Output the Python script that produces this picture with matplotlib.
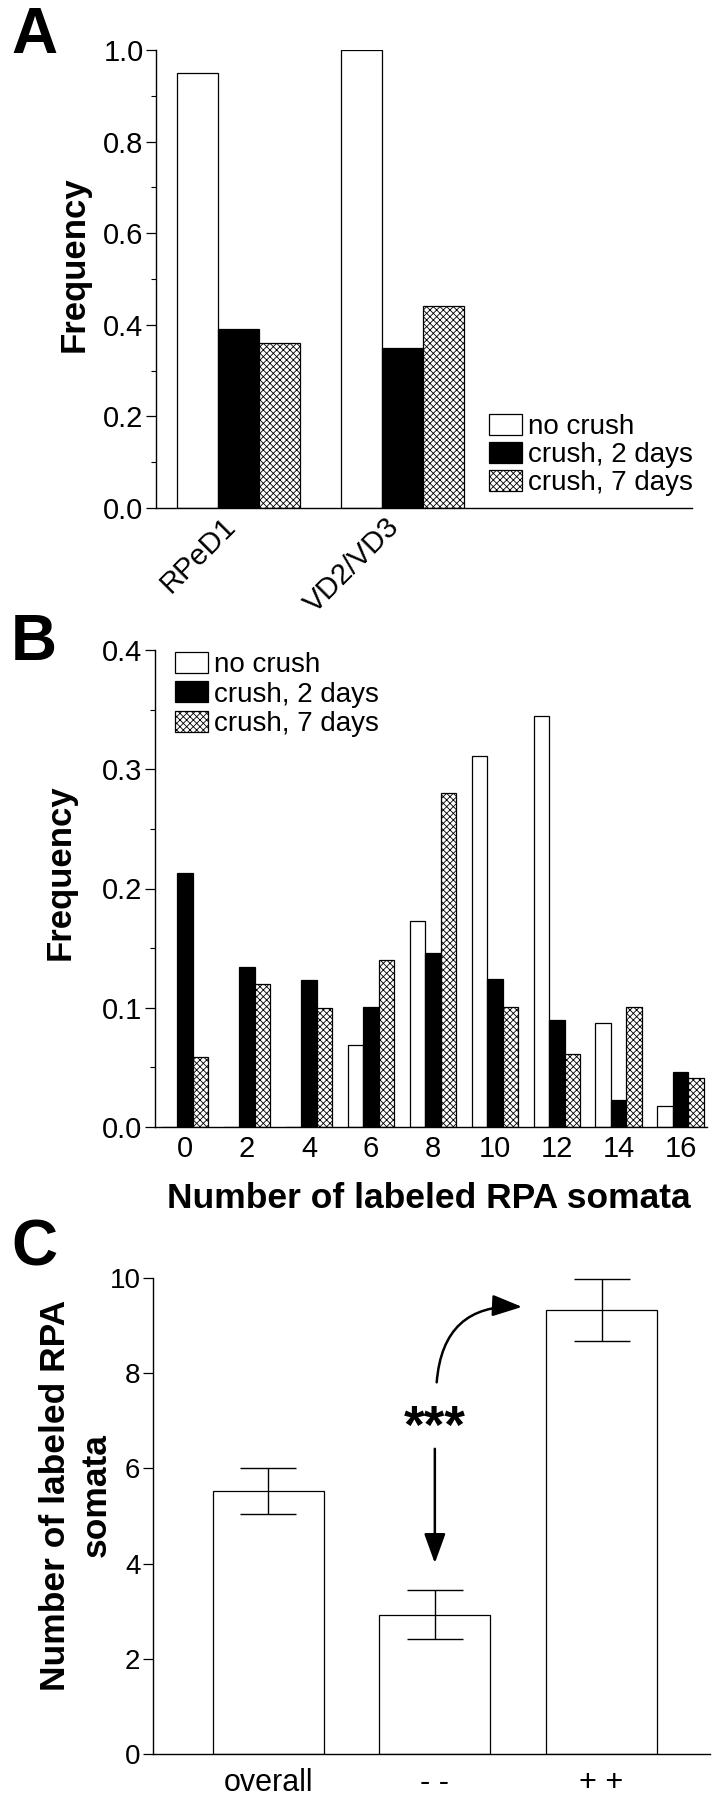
import matplotlib
matplotlib.use('Agg')
import matplotlib.pyplot as plt
import matplotlib.transforms as mtransforms
import numpy as np
from matplotlib.ticker import MultipleLocator, FormatStrFormatter
from matplotlib.patches import FancyArrowPatch

plt.rcParams['font.family'] = ['Liberation Sans', 'DejaVu Sans']
plt.rcParams['hatch.linewidth'] = 0.6

W, H = 725, 1800

series = ['no crush', 'crush, 2 days', 'crush, 7 days']

# panel A
cells = ['RPeD1', 'VD2/VD3']
a_none = [0.95, 1.0]
a_2d = [0.39, 0.35]
a_7d = [0.36, 0.44]

# panel B
somata = [0, 2, 4, 6, 8, 10, 12, 14, 16]
b_none = [0, 0, 0, 0.069, 0.173, 0.311, 0.345, 0.087, 0.018]
b_2d = [0.213, 0.134, 0.123, 0.101, 0.146, 0.124, 0.090, 0.023, 0.046]
b_7d = [0.059, 0.120, 0.100, 0.140, 0.280, 0.101, 0.061, 0.101, 0.041]

# panel C
groups = ['overall', '- -', '+ +']
c_mean = [5.52, 2.93, 9.33]
c_err = [0.48, 0.52, 0.65]

fig = plt.figure(figsize=(W / 100, H / 100), dpi=100)


def px_axes(l, t, r, b):
    return fig.add_axes([l / W, 1 - b / H, (r - l) / W, (b - t) / H])


def fx(px):
    return px / W


def fy(py):
    return 1 - py / H


def style(ax):
    ax.spines[['top', 'right']].set_visible(False)
    ax.spines[['left', 'bottom']].set_linewidth(1.0)
    ax.tick_params(axis='y', which='major', direction='out', length=7, width=0.9,
                   labelsize=21, pad=2)
    ax.tick_params(axis='y', which='minor', direction='out', length=3.5, width=0.8)
    ax.tick_params(axis='x', length=0, labelsize=21)


bar_kw = dict(edgecolor='black', linewidth=0.9)
styles = [dict(color='white'), dict(color='black'), dict(color='white', hatch='xxxxx')]
leg_kw = dict(frameon=False, fontsize=20, handleheight=0.78, handlelength=1.2,
              handletextpad=0.2, borderpad=0, borderaxespad=0)

# ---- A ----
axA = px_axes(156, 50, 692, 508)
xa = np.arange(len(cells))
w = 0.25
for k, vals in enumerate([a_none, a_2d, a_7d]):
    st = styles[k]
    axA.bar(xa + (k - 1) * w, vals, w, facecolor=st['color'], hatch=st.get('hatch'),
            label=series[k], **bar_kw)
axA.set_xlim(-0.503, 2.765)
axA.set_ylim(0, 1.0)
axA.yaxis.set_major_locator(MultipleLocator(0.2))
axA.yaxis.set_minor_locator(MultipleLocator(0.1))
axA.yaxis.set_major_formatter(FormatStrFormatter('%.1f'))
style(axA)
axA.set_xticks(xa)
axA.set_xticklabels(cells, rotation=45, ha='right', va='top', rotation_mode='anchor')
axA.tick_params(axis='x', pad=3)
shift = mtransforms.ScaledTranslation(-0.17, 0, fig.dpi_scale_trans)
for lbl in axA.get_xticklabels():
    lbl.set_transform(lbl.get_transform() + shift)
axA.legend(loc='lower left', bbox_to_anchor=(fx(489), fy(496)), bbox_transform=fig.transFigure,
           labelspacing=0.07, **leg_kw)

# ---- B ----
axB = px_axes(155, 650, 707, 1127)
xb = np.array(somata, dtype=float)
wb = 0.5
for k, vals in enumerate([b_none, b_2d, b_7d]):
    st = styles[k]
    axB.bar(xb + (k - 1) * wb, vals, wb, facecolor=st['color'], hatch=st.get('hatch'),
            label=series[k], **bar_kw)
axB.set_xlim(-0.97, 16.85)
axB.set_ylim(0, 0.4)
axB.yaxis.set_major_locator(MultipleLocator(0.1))
axB.yaxis.set_minor_locator(MultipleLocator(0.05))
axB.yaxis.set_major_formatter(FormatStrFormatter('%.1f'))
style(axB)
axB.set_xticks(somata)
axB.tick_params(axis='x', pad=6)
axB.legend(loc='upper left', bbox_to_anchor=(fx(175), fy(652)), bbox_transform=fig.transFigure,
           labelspacing=0.12, **leg_kw)

# ---- C ----
axC = px_axes(153, 1278, 710, 1754)
xc = np.arange(len(groups))
axC.bar(xc, c_mean, 0.665, facecolor='white', **bar_kw)
axC.errorbar(xc, c_mean, yerr=c_err, fmt='none', ecolor='black', elinewidth=1.0,
             capsize=20, capthick=1.0, zorder=3)
axC.set_xlim(-0.69, 2.65)
axC.set_ylim(0, 10)
axC.yaxis.set_major_locator(MultipleLocator(2))
style(axC)
axC.tick_params(axis='y', labelsize=20)
axC.set_xticks(xc)
axC.set_xticklabels(groups)
axC.tick_params(axis='x', labelsize=22, pad=10)

axC.text(1.0, 6.82, '***', fontsize=38, fontweight='bold', ha='center', va='center')
head = '-|>,head_length=1.3,head_width=0.47'
axC.add_patch(FancyArrowPatch((1.0, 6.47), (1.0, 3.95), arrowstyle=head,
                              mutation_scale=14, color='black', linewidth=1.8))
axC.add_patch(FancyArrowPatch((1.01, 7.75), (1.54, 9.39), connectionstyle='arc3,rad=-0.5',
                              arrowstyle=head, mutation_scale=14, color='black', linewidth=1.8))

# labels
fig.text(fx(74), fy(264), 'Frequency', rotation=90, ha='center', va='center',
         fontsize=25, fontweight='bold')
fig.text(fx(60), fy(872), 'Frequency', rotation=90, ha='center', va='center',
         fontsize=25, fontweight='bold')
fig.text(fx(429), fy(1198), 'Number of labeled RPA somata', ha='center', va='center',
         fontsize=25.5, fontweight='bold')
fig.text(fx(76), fy(1495), 'Number of labeled RPA\nsomata', rotation=90, ha='center',
         va='center', multialignment='center', linespacing=1.3, fontsize=25.5,
         fontweight='bold')

for lab, yb in [('A', 53), ('B', 660), ('C', 1266)]:
    fig.text(fx(11), fy(yb), lab, fontsize=46, fontweight='bold', ha='left', va='baseline')

fig.savefig('out.png', dpi=100)
